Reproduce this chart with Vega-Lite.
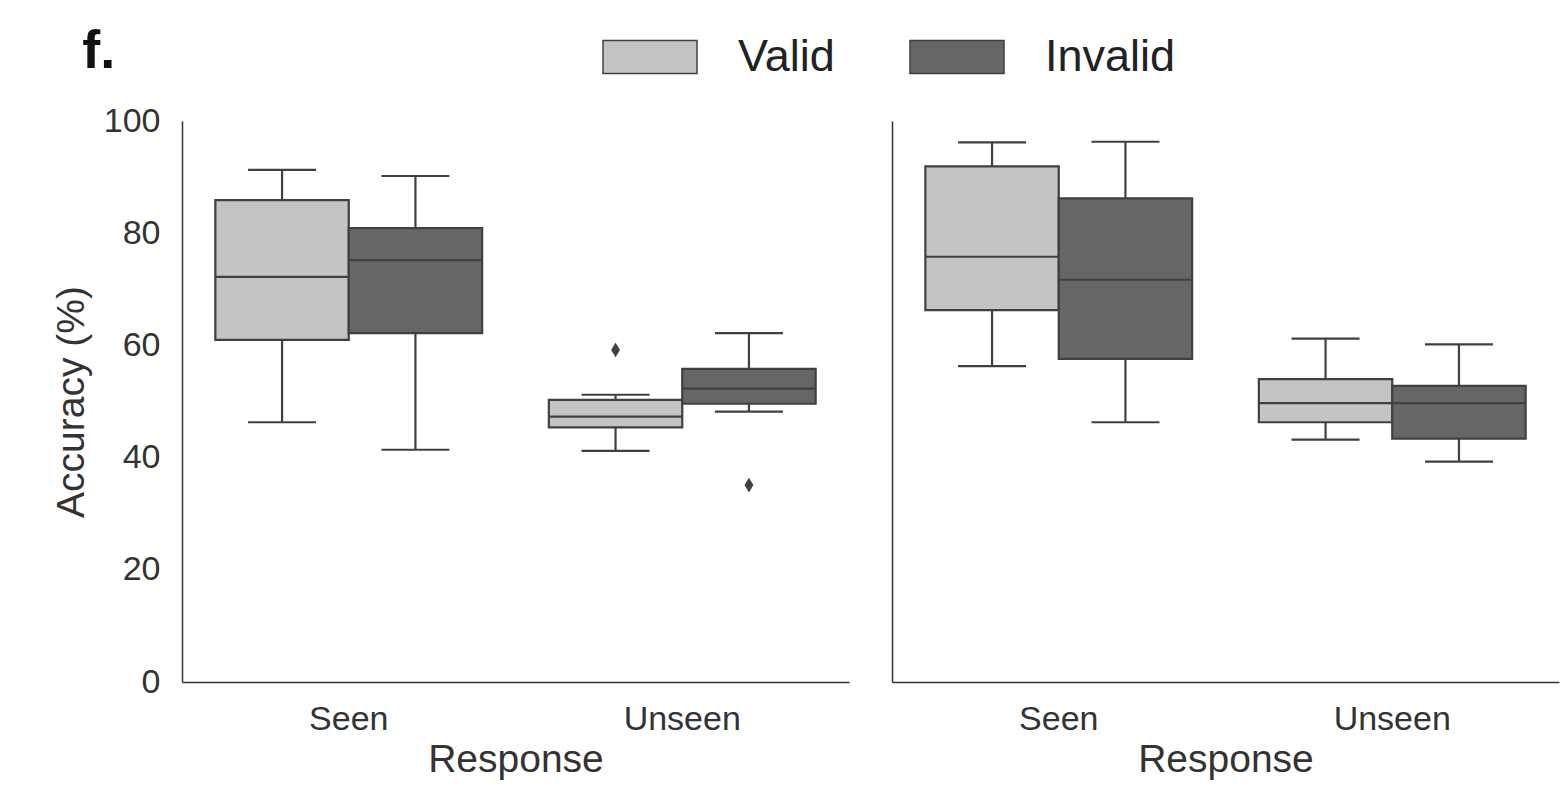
{
  "$schema": "https://vega.github.io/schema/vega-lite/v6.json",
  "background": "white",
  "padding": {"left": 52, "top": 9, "right": 8, "bottom": 10},
  "title": {"text": "f.", "anchor": "start", "fontSize": 54, "fontWeight": "bold", "font": "Liberation Sans", "color": "#111", "dx": 30, "offset": -70},
  "datasets": {
    "boxes": [
      {"panel": "L", "Response": "Seen", "cue": "Valid", "lower": 46.3, "q1": 61.0, "median": 72.2, "q3": 85.9, "upper": 91.3},
      {"panel": "L", "Response": "Seen", "cue": "Invalid", "lower": 41.4, "q1": 62.2, "median": 75.2, "q3": 80.9, "upper": 90.2},
      {"panel": "L", "Response": "Unseen", "cue": "Valid", "lower": 41.2, "q1": 45.4, "median": 47.3, "q3": 50.3, "upper": 51.2},
      {"panel": "L", "Response": "Unseen", "cue": "Invalid", "lower": 48.2, "q1": 49.6, "median": 52.3, "q3": 55.8, "upper": 62.2},
      {"panel": "R", "Response": "Seen", "cue": "Valid", "lower": 56.3, "q1": 66.3, "median": 75.8, "q3": 91.9, "upper": 96.2},
      {"panel": "R", "Response": "Seen", "cue": "Invalid", "lower": 46.3, "q1": 57.6, "median": 71.7, "q3": 86.2, "upper": 96.3},
      {"panel": "R", "Response": "Unseen", "cue": "Valid", "lower": 43.2, "q1": 46.3, "median": 49.7, "q3": 54.0, "upper": 61.2},
      {"panel": "R", "Response": "Unseen", "cue": "Invalid", "lower": 39.3, "q1": 43.4, "median": 49.7, "q3": 52.8, "upper": 60.2}
    ],
    "outliers": [
      {"panel": "L", "Response": "Unseen", "cue": "Valid", "value": 59.2},
      {"panel": "L", "Response": "Unseen", "cue": "Invalid", "value": 35.1}
    ]
  },
  "config": {
    "view": {"stroke": null},
    "font": "Liberation Sans",
    "axis": {"grid": false, "ticks": false, "domainColor": "#333", "domainWidth": 1.5, "labelColor": "#333", "titleColor": "#333", "labelFontSize": 34, "titleFontSize": 39, "titleFontWeight": "normal"},
    "legend": {"labelFontSize": 45, "labelColor": "#222"}
  },
  "spacing": 43,
  "resolve": {"scale": {"color": "shared"}},
  "hconcat": [
    {
      "width": 667, "height": 561,
      "layer": [
        {
          "data": {"name": "boxes"},
          "transform": [{"filter": "datum.panel === 'L'"}],
          "mark": {"type": "rule", "color": "#404040", "strokeWidth": 2.2},
          "encoding": {
            "x": {"field": "Response", "type": "nominal", "scale": {"paddingInner": 0.2, "paddingOuter": 0.1}, "axis": {"labelAngle": 0, "labelPadding": 20, "titlePadding": 4}},
            "xOffset": {"field": "cue", "type": "nominal", "scale": {"domain": ["Valid", "Invalid"], "paddingInner": 0, "paddingOuter": 0}},
            "y": {"field": "lower", "type": "quantitative", "scale": {"domain": [0, 100], "nice": false}, "axis": {"values": [0, 20, 40, 60, 80, 100], "title": "Accuracy (%)", "labelPadding": 22, "titlePadding": 12}},
            "y2": {"field": "upper"}
          }
        },
        {
          "data": {"name": "boxes"},
          "transform": [{"filter": "datum.panel === 'L'"}],
          "mark": {"type": "bar", "stroke": "#404040", "strokeWidth": 2.2},
          "encoding": {
            "x": {"field": "Response", "type": "nominal"},
            "xOffset": {"field": "cue", "type": "nominal"},
            "y": {"field": "q1", "type": "quantitative"},
            "y2": {"field": "q3"},
            "color": {"field": "cue", "type": "nominal", "scale": {"domain": ["Valid", "Invalid"], "range": ["#c4c4c4", "#666666"]},
              "legend": {"title": null, "orient": "none", "legendX": 420, "legendY": -112, "direction": "horizontal", "symbolType": "M-1,-0.35H1V0.35H-1Z", "symbolSize": 8836, "symbolStrokeColor": "#444", "symbolStrokeWidth": 1.5, "symbolOpacity": 1, "labelOffset": 40, "columnPadding": 72}}
          }
        },
        {
          "data": {"name": "boxes"},
          "transform": [{"filter": "datum.panel === 'L'"}],
          "mark": {"type": "tick", "color": "#404040", "thickness": 2.2, "size": 133, "opacity": 1},
          "encoding": {
            "x": {"field": "Response", "type": "nominal"},
            "xOffset": {"field": "cue", "type": "nominal"},
            "y": {"field": "median", "type": "quantitative"}
          }
        },
        {
          "data": {"name": "boxes"},
          "transform": [{"filter": "datum.panel === 'L'"}],
          "mark": {"type": "tick", "color": "#404040", "thickness": 2.2, "size": 68, "opacity": 1},
          "encoding": {
            "x": {"field": "Response", "type": "nominal"},
            "xOffset": {"field": "cue", "type": "nominal"},
            "y": {"field": "upper", "type": "quantitative"}
          }
        },
        {
          "data": {"name": "boxes"},
          "transform": [{"filter": "datum.panel === 'L'"}],
          "mark": {"type": "tick", "color": "#404040", "thickness": 2.2, "size": 68, "opacity": 1},
          "encoding": {
            "x": {"field": "Response", "type": "nominal"},
            "xOffset": {"field": "cue", "type": "nominal"},
            "y": {"field": "lower", "type": "quantitative"}
          }
        },
        {
          "data": {"name": "outliers"},
          "transform": [{"filter": "datum.panel === 'L'"}],
          "mark": {"type": "point", "shape": "M0,-1L0.6,0L0,1L-0.6,0Z", "size": 220, "filled": true, "color": "#404040", "opacity": 1},
          "encoding": {
            "x": {"field": "Response", "type": "nominal"},
            "xOffset": {"field": "cue", "type": "nominal"},
            "y": {"field": "value", "type": "quantitative"}
          }
        }
      ]
    },
    {
      "width": 667, "height": 561,
      "layer": [
        {
          "data": {"name": "boxes"},
          "transform": [{"filter": "datum.panel === 'R'"}],
          "mark": {"type": "rule", "color": "#404040", "strokeWidth": 2.2},
          "encoding": {
            "x": {"field": "Response", "type": "nominal", "scale": {"paddingInner": 0.2, "paddingOuter": 0.1}, "axis": {"labelAngle": 0, "labelPadding": 20, "titlePadding": 4}},
            "xOffset": {"field": "cue", "type": "nominal", "scale": {"domain": ["Valid", "Invalid"], "paddingInner": 0, "paddingOuter": 0}},
            "y": {"field": "lower", "type": "quantitative", "scale": {"domain": [0, 100], "nice": false}, "axis": {"labels": false, "title": null}},
            "y2": {"field": "upper"}
          }
        },
        {
          "data": {"name": "boxes"},
          "transform": [{"filter": "datum.panel === 'R'"}],
          "mark": {"type": "bar", "stroke": "#404040", "strokeWidth": 2.2},
          "encoding": {
            "x": {"field": "Response", "type": "nominal"},
            "xOffset": {"field": "cue", "type": "nominal"},
            "y": {"field": "q1", "type": "quantitative"},
            "y2": {"field": "q3"},
            "color": {"field": "cue", "type": "nominal", "scale": {"domain": ["Valid", "Invalid"], "range": ["#c4c4c4", "#666666"]}}
          }
        },
        {
          "data": {"name": "boxes"},
          "transform": [{"filter": "datum.panel === 'R'"}],
          "mark": {"type": "tick", "color": "#404040", "thickness": 2.2, "size": 133, "opacity": 1},
          "encoding": {
            "x": {"field": "Response", "type": "nominal"},
            "xOffset": {"field": "cue", "type": "nominal"},
            "y": {"field": "median", "type": "quantitative"}
          }
        },
        {
          "data": {"name": "boxes"},
          "transform": [{"filter": "datum.panel === 'R'"}],
          "mark": {"type": "tick", "color": "#404040", "thickness": 2.2, "size": 68, "opacity": 1},
          "encoding": {
            "x": {"field": "Response", "type": "nominal"},
            "xOffset": {"field": "cue", "type": "nominal"},
            "y": {"field": "upper", "type": "quantitative"}
          }
        },
        {
          "data": {"name": "boxes"},
          "transform": [{"filter": "datum.panel === 'R'"}],
          "mark": {"type": "tick", "color": "#404040", "thickness": 2.2, "size": 68, "opacity": 1},
          "encoding": {
            "x": {"field": "Response", "type": "nominal"},
            "xOffset": {"field": "cue", "type": "nominal"},
            "y": {"field": "lower", "type": "quantitative"}
          }
        }
      ]
    }
  ]
}
